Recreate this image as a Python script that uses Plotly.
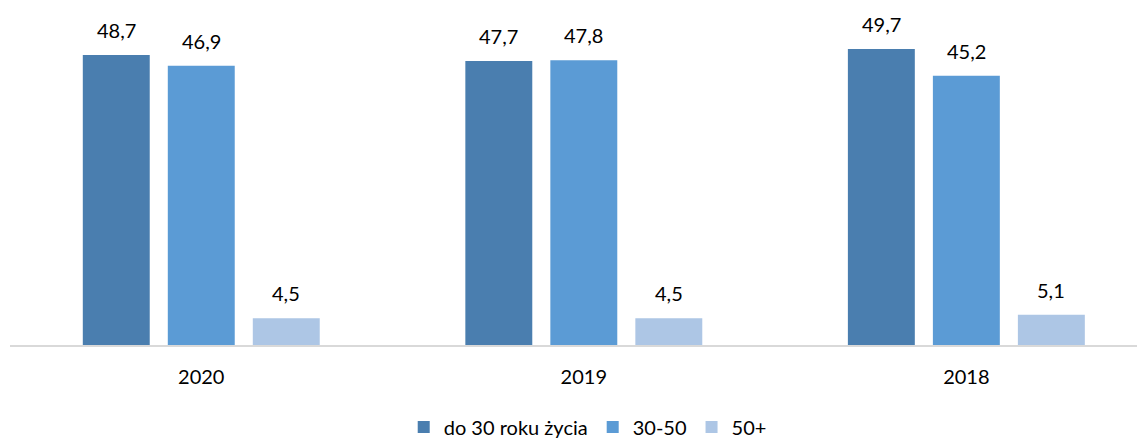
import plotly.graph_objects as go

years = ["2020", "2019", "2018"]
series_names = ["do 30 roku życia", "30-50", "50+"]
s_do30 = [48.7, 47.7, 49.7]
s_30_50 = [46.9, 47.8, 45.2]
s_50plus = [4.5, 4.5, 5.1]

colors = ["#4A7EAF", "#5B9BD5", "#ADC6E5"]
offsets = [-0.2222, 0.0, 0.2222]
bar_w = 0.175
FONT = "Lato"

x_idx = list(range(len(years)))
fig = go.Figure()
annotations = []
for name, vals, col, off in zip(series_names, [s_do30, s_30_50, s_50plus], colors, offsets):
    fig.add_trace(go.Bar(
        x=x_idx, y=vals, name=name, marker=dict(color=col, line=dict(width=0)),
        width=bar_w, offset=off - bar_w / 2, hoverinfo="skip",
    ))
    for xi, v in zip(x_idx, vals):
        annotations.append(dict(
            x=xi + off, y=v, xref="x", yref="y", text=f"{v:.1f}".replace(".", ","),
            showarrow=False, yanchor="middle", yshift=25,
            font=dict(family=FONT, size=20, color="#000000"),
        ))

fig.update_layout(
    width=1137, height=431,
    margin=dict(l=2, r=0, t=2, b=94, autoexpand=False),
    paper_bgcolor="white", plot_bgcolor="white",
    barmode="overlay",
    showlegend=True,
    legend=dict(orientation="h", x=0.509, xanchor="center", y=-0.2448, yanchor="middle",
                font=dict(family=FONT, size=20, color="#000000"), traceorder="normal"),
    annotations=annotations,
    font=dict(family=FONT, size=20, color="#000000"),
)
fig.update_xaxes(
    range=[-0.5, 2.467], tickvals=x_idx, ticktext=years, showgrid=False, zeroline=False,
    showline=True, linecolor="#D9D9D9", linewidth=2, ticks="", ticklabelstandoff=13,
    tickfont=dict(family=FONT, size=20, color="#000000"),
)
fig.update_yaxes(range=[0, 56.25], visible=False, showgrid=False, zeroline=False)

fig.write_html("out.html")
